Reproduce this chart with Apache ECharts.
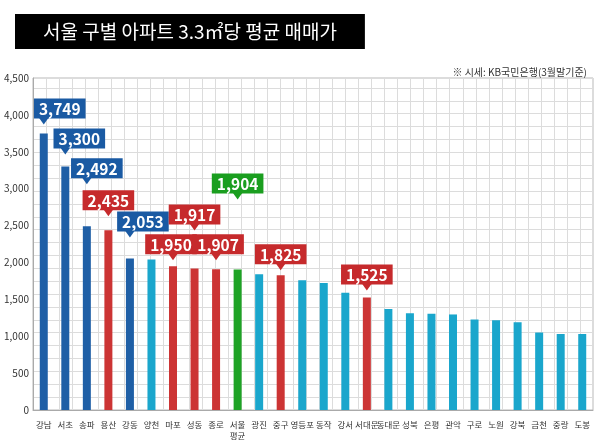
<!DOCTYPE html>
<html>
<head>
<meta charset="utf-8">
<script src="https://cdn.jsdelivr.net/npm/echarts@6/dist/echarts.min.js"></script>
<style>
  html, body { margin: 0; padding: 0; background: #fff; }
  #chart { width: 600px; height: 441px; }
</style>
</head>
<body>
<div id="chart"></div>
<script>
// 구별 3.3㎡당 평균 매매가 (만원)
var districts = ['강남', '서초', '송파', '용산', '강동', '양천', '마포', '성동', '종로', '서울\n평균',
  '광진', '중구', '영등포', '동작', '강서', '서대문', '동대문', '성북', '은평', '관악',
  '구로', '노원', '강북', '금천', '중랑', '도봉'];
var prices = [3749, 3300, 2492, 2435, 2053, 2040, 1950, 1917, 1907, 1904,
  1840, 1825, 1760, 1720, 1590, 1525, 1370, 1310, 1305, 1295,
  1225, 1215, 1190, 1050, 1030, 1030];
// 그룹: top = 강남권, hot = 강북 주요지역, avg = 서울평균, etc = 기타
var groups = ['top', 'top', 'top', 'hot', 'top', 'etc', 'hot', 'hot', 'hot', 'avg',
  'etc', 'hot', 'etc', 'etc', 'etc', 'hot', 'etc', 'etc', 'etc', 'etc',
  'etc', 'etc', 'etc', 'etc', 'etc', 'etc'];
var yTicks = [0, 500, 1000, 1500, 2000, 2500, 3000, 3500, 4000, 4500];

// 라벨 배치 (px) - 막대 위 띄움 / 좌우 이동
var labelLift = [9, 12, 42, 14, 21, 0, 6, 38, 9, 70, 0, 5, 0, 0, 0, 7, 0, 0, 0, 0, 0, 0, 0, 0, 0, 0];
var labelShift = [16, 14, 10, 0, 13, 0, -2, 0, 2, 0, 0, 0, 0, 0, 0, 0, 0, 0, 0, 0, 0, 0, 0, 0, 0, 0];

var barColor = { top: '#1f5fa6', hot: '#cc3434', avg: '#1ea325', etc: '#1aa6cc' };
var boxColor = { top: '#1a5aa3', hot: '#c62a2c', avg: '#1a9e1f' };

var fmt = function (v) { return String(v).replace(/\B(?=(\d{3})+(?!\d))/g, ','); };

var barData = prices.map(function (v, i) {
  var g = groups[i];
  var item = { value: v, itemStyle: { color: barColor[g] } };
  if (g !== 'etc') {
    item.label = {
      show: true,
      position: 'top',
      distance: labelLift[i] + 6,
      offset: [labelShift[i], 0],
      formatter: fmt(v),
      backgroundColor: boxColor[g],
      color: '#fff',
      fontSize: 15.5,
      fontWeight: 'bold',
      lineHeight: 16,
      padding: [3, 5, 1, 5]
    };
  }
  return item;
});

var pointers = [];
prices.forEach(function (v, i) {
  if (groups[i] === 'etc') return;
  pointers.push({
    coord: [districts[i], v],
    symbolOffset: [0, -(labelLift[i] + 3.5)],
    itemStyle: { color: boxColor[groups[i]] }
  });
});

var chart = echarts.init(document.getElementById('chart'));
chart.setOption({
  backgroundColor: '#fff',
  textStyle: { fontFamily: 'Noto Sans CJK KR' },
  title: [{
    text: '서울 구별 아파트 3.3㎡당 평균 매매가',
    left: 15,
    top: 14,
    backgroundColor: '#000',
    padding: [8, 28, 8, 28],
    textStyle: { color: '#fff', fontSize: 19, fontWeight: 'normal', lineHeight: 19, fontFamily: 'Noto Sans CJK KR' }
  }, {
    text: '※ 시세: KB국민은행(3월말기준)',
    right: 8,
    top: 62,
    textStyle: { color: '#333', fontSize: 10, fontWeight: 'normal', fontFamily: 'Noto Sans CJK KR' }
  }],
  grid: {
    left: 33, right: 7, top: 78, bottom: 28,
    show: true, borderColor: '#b8b8b8', borderWidth: 1
  },
  xAxis: [{
    type: 'category',
    data: districts,
    axisTick: { show: false },
    axisLine: { lineStyle: { color: '#aaa' } },
    axisLabel: { interval: 0, color: '#333', fontSize: 8.5, margin: 9, lineHeight: 11 }
  }, {
    // 배경 모눈
    type: 'value', min: 0, max: 43, interval: 1, position: 'top',
    axisLabel: { show: false }, axisTick: { show: false }, axisLine: { show: false },
    splitLine: { lineStyle: { color: '#dcdcdc' } }
  }],
  yAxis: [{
    type: 'value',
    min: yTicks[0], max: yTicks[yTicks.length - 1], interval: yTicks[1] - yTicks[0],
    axisLine: { show: true, lineStyle: { color: '#aaa' } },
    axisTick: { show: false },
    splitLine: { show: false },
    axisLabel: { color: '#333', fontSize: 10, margin: 4, formatter: fmt }
  }, {
    type: 'value', min: 0, max: 25.77, interval: 1, position: 'right',
    axisLabel: { show: false }, axisTick: { show: false }, axisLine: { show: false },
    splitLine: { lineStyle: { color: '#dcdcdc' } }
  }],
  series: [{
    type: 'bar',
    data: barData,
    barWidth: 8,
    z: 3,
    markPoint: {
      symbol: 'triangle',
      symbolRotate: 180,
      symbolSize: [10, 7],
      label: { show: false },
      data: pointers
    }
  }]
});
window.addEventListener('resize', function () { chart.resize(); });
</script>
</body>
</html>
